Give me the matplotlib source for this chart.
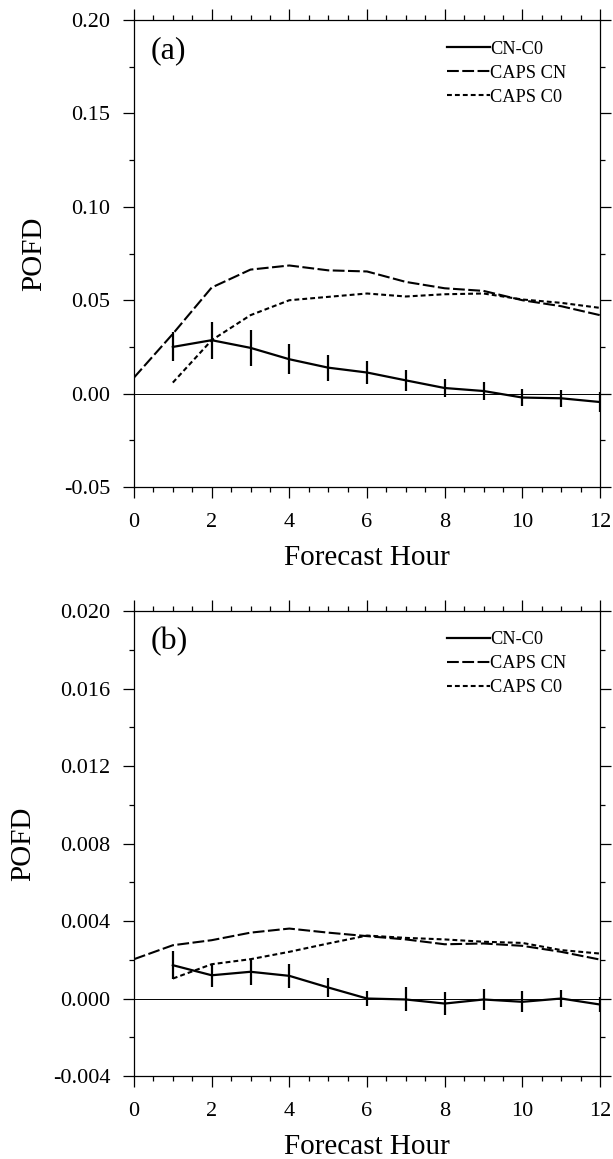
import matplotlib
matplotlib.use("Agg")
import matplotlib.pyplot as plt
from matplotlib.lines import Line2D
from matplotlib.ticker import MultipleLocator, FormatStrFormatter

plt.rcParams["font.family"] = ["Liberation Serif", "DejaVu Serif"]
plt.rcParams["axes.unicode_minus"] = False
plt.rcParams["lines.scale_dashes"] = False

hours = list(range(0, 13))
hours_1 = list(range(1, 13))

# panel (a)
caps_cn_a = [0.0086, 0.032, 0.0568, 0.0664, 0.0686, 0.066, 0.0654, 0.0598, 0.0564, 0.055, 0.050, 0.0468, 0.042]
caps_c0_a = [0.0059, 0.0286, 0.042, 0.050, 0.0518, 0.0536, 0.052, 0.0532, 0.0536, 0.0504, 0.0486, 0.0459]
diff_a = [0.025, 0.0286, 0.0245, 0.0184, 0.0139, 0.0113, 0.0071, 0.003, 0.0014, -0.0021, -0.0025, -0.0045]
err_a = [0.0078, 0.0098, 0.0095, 0.0079, 0.0069, 0.006, 0.0057, 0.005, 0.005, 0.0046, 0.0046, 0.0054]

# panel (b)
caps_cn_b = [0.00203, 0.00275, 0.00301, 0.0034, 0.00361, 0.0034, 0.00322, 0.00305, 0.0028, 0.00284, 0.00272, 0.00241, 0.00201]
caps_c0_b = [0.00103, 0.00177, 0.00203, 0.00241, 0.00284, 0.00325, 0.00313, 0.00305, 0.00293, 0.00287, 0.0025, 0.00232]
diff_b = [0.00172, 0.0012, 0.00138, 0.00117, 0.00057, 0.0, -0.00005, -0.00026, -0.00005, -0.00017, 0.0, -0.00031]
err_b = [0.00072, 0.00058, 0.00066, 0.00063, 0.0005, 0.0004, 0.00062, 0.00058, 0.00053, 0.00054, 0.00043, 0.00039]

labels = ["CN-C0", "CAPS CN", "CAPS C0"]

fig = plt.figure(figsize=(6.13, 11.59), dpi=100)
ax_a = fig.add_axes([0.2186, 0.5798, 0.7602, 0.4029])
ax_b = fig.add_axes([0.2186, 0.0716, 0.7602, 0.4012])

long_dash = (8.5, 2.5)
short_dash = (3.5, 2.2)


def draw(ax, cn, c0, diff, err, ylim, major, minor, fmt, tag):
    ax.axhline(0, color="black", lw=0.7, zorder=1)
    ax.plot(hours, cn, color="black", lw=1.5, dashes=long_dash)
    ax.plot(hours_1, c0, color="black", lw=1.5, dashes=short_dash)
    ax.errorbar(hours_1, diff, yerr=err, color="black", lw=1.6, elinewidth=1.6, capsize=0)
    ax.set_xlim(0, 12)
    ax.set_ylim(*ylim)
    ax.xaxis.set_major_locator(MultipleLocator(2))
    ax.xaxis.set_minor_locator(MultipleLocator(0.5))
    ax.yaxis.set_major_locator(MultipleLocator(major))
    ax.yaxis.set_minor_locator(MultipleLocator(minor))
    ax.yaxis.set_major_formatter(FormatStrFormatter(fmt))
    ax.tick_params(which="both", direction="out", top=True, right=True, width=0.9)
    ax.tick_params(which="major", length=8, labelsize=16)
    ax.tick_params(axis="x", which="major", pad=11)
    ax.tick_params(axis="y", which="major", pad=9)
    ax.tick_params(which="minor", length=3.5)
    for s in ax.spines.values():
        s.set_linewidth(0.9)
    ax.set_xlabel("Forecast Hour", fontsize=21, labelpad=9)
    ax.set_ylabel("POFD", fontsize=21, labelpad=12)
    ax.text(0.035, 0.965, tag, transform=ax.transAxes, fontsize=23, va="top", ha="left")
    handles = [
        Line2D([], [], color="black", lw=1.6),
        Line2D([], [], color="black", lw=1.5, dashes=long_dash),
        Line2D([], [], color="black", lw=1.5, dashes=short_dash),
    ]
    ax.legend(handles, labels,
              loc="upper left", bbox_to_anchor=(0.672, 0.956), frameon=False,
              fontsize=13.2, handlelength=2.35, handletextpad=0.0,
              labelspacing=0.38, borderpad=0, borderaxespad=0)


draw(ax_a, caps_cn_a, caps_c0_a, diff_a, err_a, (-0.05, 0.20), 0.05, 0.025, "%.2f", "(a)")
draw(ax_b, caps_cn_b, caps_c0_b, diff_b, err_b, (-0.004, 0.020), 0.004, 0.002, "%.3f", "(b)")

fig.savefig("out.png", dpi=100)
